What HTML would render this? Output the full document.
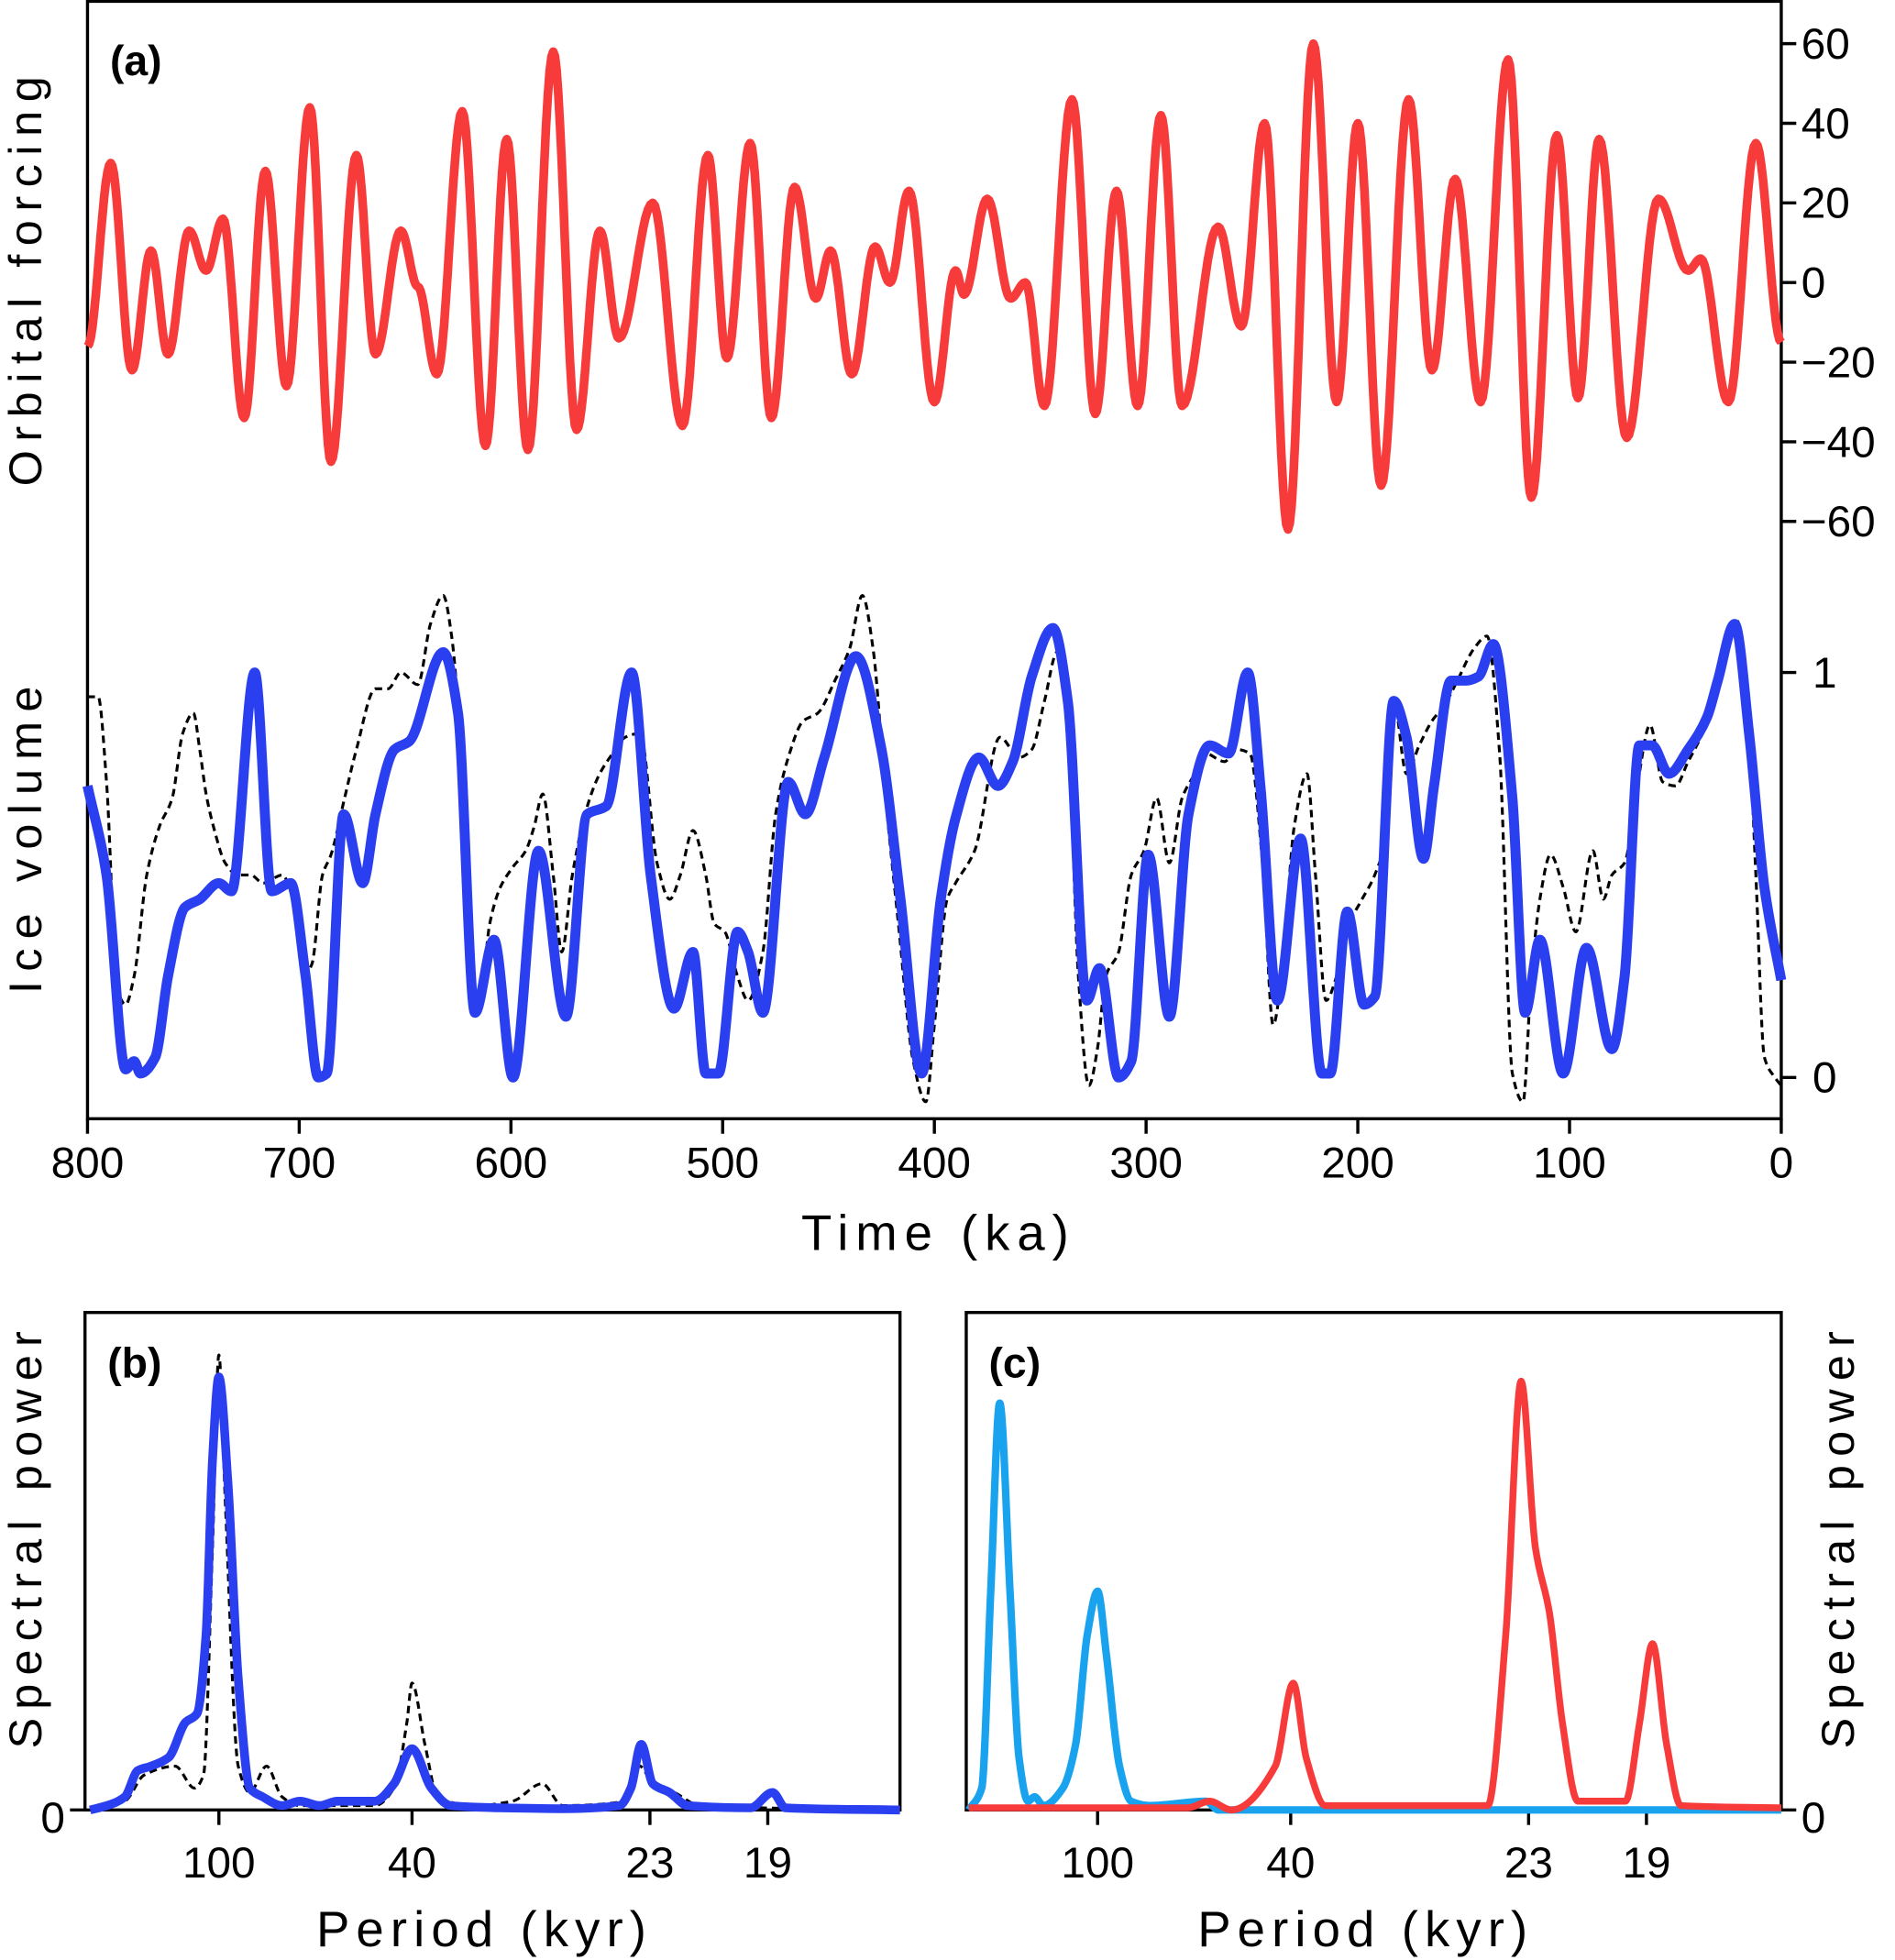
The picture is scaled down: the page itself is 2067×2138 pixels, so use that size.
<!DOCTYPE html>
<html><head><meta charset="utf-8"><style>
html,body{margin:0;padding:0;background:#fff;}
svg{display:block;}
text{font-family:"Liberation Sans",sans-serif;fill:#000;}
</style></head><body>
<svg id="chart" width="2067" height="2138" viewBox="0 0 1516 1568" xmlns="http://www.w3.org/2000/svg">
<g id="axes"></g>
<g id="series"></g>
</svg>
<script>
// ---------- Panel (a) data ----------
const orbTime = [800,789,779,770,762,752,744,736,726,716,706,695,685,673,664,652,644,635,623,612,602,592,580,569,558,549,533,519,507,498,487,477,466,456,449,439,428,421,412,400,390,386,375,364,357,348,335,324,314,304,293,283,266,255,244,233,221,210,200,189,176,165,154,142,129,118,106,96,86,73,58,44,38,25,12,0];
const orbValue = [-16,30,-22,8,-18,13,3,16,-34,28,-26,44,-45,32,-18,13,-1,-23,43,-41,36,-42,58,-37,13,-14,20,-36,32,-19,35,-34,24,-4,8,-23,9,0,23,-30,3,-3,21,-4,0,-31,46,-33,23,-31,42,-31,14,-11,40,-62,60,-30,40,-51,46,-22,26,-30,56,-54,37,-29,36,-39,21,3,6,-30,35,-15];
const iceTime = [800,791,782,778,775,768,762,754,747,738,732,721,713,704,697,691,687,679,670,664,655,648,632,625,617,608,599,587,574,564,555,543,534,523,514,508,502,493,488,481,469,461,452,437,425,416,406,397,390,379,370,363,354,344,337,328,322,313,307,299,289,280,270,261,252,246,238,227,217,213,205,197,192,183,177,169,164,156,149,143,136,127,121,114,103,92,80,74,67,61,53,44,35,30,22,15,8,0];
const iceModel = [.72,.50,.02,.04,.01,.05,.25,.42,.44,.48,.46,1.0,.46,.48,.25,0,.01,.65,.48,.65,.81,.83,1.05,.90,.16,.34,0,.56,.15,.65,.67,1.0,.5,.17,.31,.01,.01,.36,.31,.16,.73,.65,.79,1.04,.81,.44,.01,.44,.64,.79,.72,.78,.99,1.11,.93,.19,.27,0,.04,.55,.15,.65,.82,.80,1.0,.72,.19,.59,.01,.01,.41,.18,.20,.93,.84,.54,.72,.98,.98,.99,1.07,.69,.16,.34,.01,.32,.07,.25,.82,.82,.75,.81,.89,.98,1.12,.84,.47,.24];
const proxyTime = [800,795,791,786,782,778,772,766,760,755,750,747,744,740,735,729,723,717,708,703,698,694,689,685,679,673,664,658,652,644,638,632,628,623,618,614,610,605,599,593,589,585,580,576,571,565,559,552,546,539,531,525,520,514,508,504,499,493,488,481,475,469,462,455,447,440,434,429,423,417,410,404,400,394,390,381,369,360,354,348,342,337,332,327,323,319,313,307,301,295,289,283,277,272,263,257,251,245,240,236,230,224,220,215,210,204,198,192,186,183,177,171,165,159,153,145,139,133,127,122,118,114,109,103,97,89,84,80,74,68,62,56,50,44,38,33,27,21,16,12,8,3,0];
const proxyValue = [.94,.94,.73,.22,.18,.25,.50,.62,.69,.85,.90,.81,.70,.61,.53,.50,.50,.48,.50,.44,.25,.28,.50,.55,.68,.81,.96,.96,1.0,.97,1.12,1.19,1.09,.75,.19,.22,.38,.47,.52,.56,.62,.70,.50,.31,.50,.65,.74,.80,.84,.85,.53,.44,.50,.61,.50,.38,.36,.25,.19,.31,.65,.79,.88,.90,.98,1.06,1.19,1.06,.69,.38,.04,-.06,.13,.44,.48,.56,.84,.79,.81,.93,1.05,.87,.25,-.02,.07,.25,.31,.50,.56,.69,.53,.69,.75,.80,.78,.81,.80,.53,.13,.25,.62,.75,.50,.19,.25,.38,.44,.50,.62,.93,.75,.82,.88,.92,.98,1.06,1.09,.80,.01,-.06,.25,.44,.55,.47,.36,.56,.44,.50,.53,.72,.87,.73,.72,.78,.84,.90,1.03,1.13,.93,.50,.05,0,-.02];
const timeTicks = [800,700,600,500,400,300,200,100,0];
const orbTicks = [60,40,20,0,-20,-40,-60];
const iceTicks = [0,1];
// ---------- Panel (b),(c) data (frequency in cycles/Myr) ----------
const periodTicks = [100,40,23,19];
const bModelFreq = [0,1.3,2.7,3.7,4.7,6.1,7.4,8.3,9.0,9.5,10,10.7,11.5,12.4,13.4,14.9,16.3,17.8,19.2,20.7,22.1,23.6,25,26.5,28,31.8,36.7,41.1,42,42.8,43.7,45,46.4,51.3,53,54,62.9];
const bModelPower = [0,.01,.03,.09,.1,.12,.2,.22,.4,.8,.99,.75,.3,.05,.03,.01,.02,.01,.02,.02,.02,.06,.14,.05,.01,.005,.003,.01,.05,.15,.06,.04,.01,.005,.04,.005,0];
const bProxyFreq = [0,2.7,4.2,6.6,8.1,8.8,9.5,10,10.5,11.5,12.4,13.7,14.9,16.3,22.1,23.6,24.6,25,26,27,29.9,32.8,35.1,36.7,41.6,42.7,43.5,45.4,47.4,62.9];
const bProxyPower = [0,.02,.08,.1,.05,.08,.6,1.04,.7,.1,.04,.1,.03,.01,.01,.05,.2,.29,.15,.03,.01,.02,.06,.01,.02,.1,.07,.04,.01,0];
const cIceFreq = [0,1,1.7,2.4,3.2,3.9,4.6,5.1,5.8,7.3,8.3,9.2,10,10.7,11.7,12.6,14.1,18.4,19.4,63.1];
const cIcePower = [0,.05,.5,.93,.5,.12,.02,.03,.01,.05,.15,.4,.5,.35,.1,.02,.01,.02,0,0];
const cOrbFreq = [0,17,18.7,20.4,23.8,25.2,26.2,27.7,40.3,41.7,42.9,44,45.1,46.1,47.3,51,52.1,53.1,54.2,55.3,63.1];
const cOrbPower = [.005,.005,.02,0,.1,.29,.12,.01,.01,.4,.98,.6,.45,.2,.02,.02,.2,.38,.15,.01,.005];

const NS="http://www.w3.org/2000/svg";
const axes=document.getElementById('axes'), ser=document.getElementById('series');
function mk(tag,attrs,parent){const e=document.createElementNS(NS,tag);for(const k in attrs)e.setAttribute(k,attrs[k]);(parent||axes).appendChild(e);return e;}

// axis functions
const xT=t=>70+(800-t)*(1355/800);
const yOrb=v=>226-v*3.185;
const yIce=v=>862-v*324;
const xB=f=>68+(f+0.4)*10.3;
const xC=f=>773+(f+0.2)*10.3;
const yP=p=>1448-p*350;

// monotone cubic (Fritsch-Carlson) through points with increasing x
function mono(pts){
  const n=pts.length, d=[], m=[];
  for(let i=0;i<n-1;i++) d.push((pts[i+1][1]-pts[i][1])/(pts[i+1][0]-pts[i][0]));
  m[0]=d[0]; m[n-1]=d[n-2];
  for(let i=1;i<n-1;i++){
    if(d[i-1]*d[i]<=0) m[i]=0;
    else { const h0=pts[i][0]-pts[i-1][0], h1=pts[i+1][0]-pts[i][0];
      const w1=2*h1+h0, w2=h1+2*h0; m[i]=(w1+w2)/(w1/d[i-1]+w2/d[i]); }
  }
  let s='M'+pts[0][0].toFixed(1)+','+pts[0][1].toFixed(1);
  for(let i=0;i<n-1;i++){
    const h=(pts[i+1][0]-pts[i][0])/3;
    s+=' C'+(pts[i][0]+h).toFixed(1)+','+(pts[i][1]+m[i]*h).toFixed(1)+' '+(pts[i+1][0]-h).toFixed(1)+','+(pts[i+1][1]-m[i+1]*h).toFixed(1)+' '+pts[i+1][0].toFixed(1)+','+pts[i+1][1].toFixed(1);
  }
  return s;
}
function cosPath(xs,ys){
  let d='M'+xs[0].toFixed(1)+','+ys[0].toFixed(1);
  for(let i=0;i<xs.length-1;i++){
    for(let s=1;s<=14;s++){const u=s/14,w=(1-Math.cos(Math.PI*u))/2;
      d+=' L'+(xs[i]+(xs[i+1]-xs[i])*u).toFixed(1)+','+(ys[i]+(ys[i+1]-ys[i])*w).toFixed(1);}
  }
  return d;
}
function txt(s,x,y,size,attrs){const e=mk('text',Object.assign({x:x,y:y,'font-size':size},attrs||{}));e.textContent=s;return e;}

// ---------- Panel (a) frame ----------
const fa=mk('rect',{x:70,y:1,width:1355,height:894,fill:'none',stroke:'#000','stroke-width':2.5});


timeTicks.forEach(t=>{
  const l=mk('line',{x1:xT(t),x2:xT(t),y1:895,y2:907,stroke:'#000','stroke-width':2.5});
  
  
  const e=txt(String(t),xT(t),942,35,{'text-anchor':'middle'});
  
  
});
orbTicks.forEach(v=>{
  const l=mk('line',{x1:1425,x2:1437,y1:yOrb(v),y2:yOrb(v),stroke:'#000','stroke-width':2.5});
  
  
  const e=txt(v<0?'\u2212'+(-v):String(v),1441,yOrb(v)+12,35);
  
  
});
iceTicks.forEach(v=>{
  const l=mk('line',{x1:1425,x2:1437,y1:yIce(v),y2:yIce(v),stroke:'#000','stroke-width':2.5});
  
  
  const e=txt(String(v),1450,yIce(v)+12,35);
  
  
});
let e;
e=txt('(a)',88,60,34,{'font-weight':'bold'});


e=txt('Orbital forcing',0,0,37,{'text-anchor':'middle',textLength:328,lengthAdjust:'spacing',transform:'translate(33,225) rotate(-90)'});


e=txt('Ice volume',0,0,37,{'text-anchor':'middle',textLength:246,lengthAdjust:'spacing',transform:'translate(33,672) rotate(-90)'});


e=txt('Time (ka)',748,1000,40,{'text-anchor':'middle',textLength:214,lengthAdjust:'spacing'});



// series a
e=mk('path',{d:mono(proxyTime.map((t,i)=>[xT(t),yIce(proxyValue[i])])),fill:'none',stroke:'#000','stroke-width':2.3,'stroke-dasharray':'6,4'},ser);


e=mk('path',{d:cosPath(orbTime.map(xT),orbValue.map(yOrb)),fill:'none',stroke:'#f73b3b','stroke-width':7,'stroke-linejoin':'round'},ser);


e=mk('path',{d:mono(iceTime.map((t,i)=>[xT(t),yIce(iceModel[i])])),fill:'none',stroke:'#2a3ff0','stroke-width':8,'stroke-linejoin':'round'},ser);



// ---------- Panels (b),(c) ----------
function spectralPanel(name,x0,xf,label,rightSide){
  const r=mk('rect',{x:x0,y:1050,width:652,height:398,fill:'none',stroke:'#000','stroke-width':2.5});
  
  
  periodTicks.forEach(p=>{
    const x=xf(1000/p);
    const l=mk('line',{x1:x,x2:x,y1:1448,y2:1460,stroke:'#000','stroke-width':2.5});
    
    
    const t=txt(String(p),x,1502,35,{'text-anchor':'middle'});
    
    
  });
  const tx=rightSide?x0+652:x0;
  const l=mk('line',{x1:tx,x2:rightSide?tx+12:tx-12,y1:1448,y2:1448,stroke:'#000','stroke-width':2.5});
  
  
  const z=txt('0',rightSide?tx+16:tx-16,1466,35,{'text-anchor':rightSide?'start':'end'});
  
  
  const lb=txt(label,x0+18,1102,34,{'font-weight':'bold'});
  
  
  const yt=txt('Spectral power',0,0,37,{'text-anchor':'middle',textLength:334,lengthAdjust:'spacing',transform:'translate('+(rightSide?1483:33)+',1232) rotate(-90)'});
  
  
  const xt=txt('Period (kyr)',x0+317,1557,40,{'text-anchor':'middle',textLength:264,lengthAdjust:'spacing'});
  
  
}
spectralPanel('panel-b',68,xB,'(b)',false);
spectralPanel('panel-c',773,xC,'(c)',true);

e=mk('path',{d:mono(bProxyFreq.map((f,i)=>[xB(f),yP(bProxyPower[i])])),fill:'none',stroke:'#000','stroke-width':2.3,'stroke-dasharray':'6,4'},ser);


e=mk('path',{d:mono(bModelFreq.map((f,i)=>[xB(f),yP(bModelPower[i])])),fill:'none',stroke:'#2a3ff0','stroke-width':7,'stroke-linejoin':'round'},ser);


e=mk('path',{d:mono(cIceFreq.map((f,i)=>[xC(f),yP(cIcePower[i])])),fill:'none',stroke:'#19a3ef','stroke-width':6,'stroke-linejoin':'round'},ser);


e=mk('path',{d:mono(cOrbFreq.map((f,i)=>[xC(f),yP(cOrbPower[i])])),fill:'none',stroke:'#f73b3b','stroke-width':5.5,'stroke-linejoin':'round'},ser);


</script>
</body></html>
